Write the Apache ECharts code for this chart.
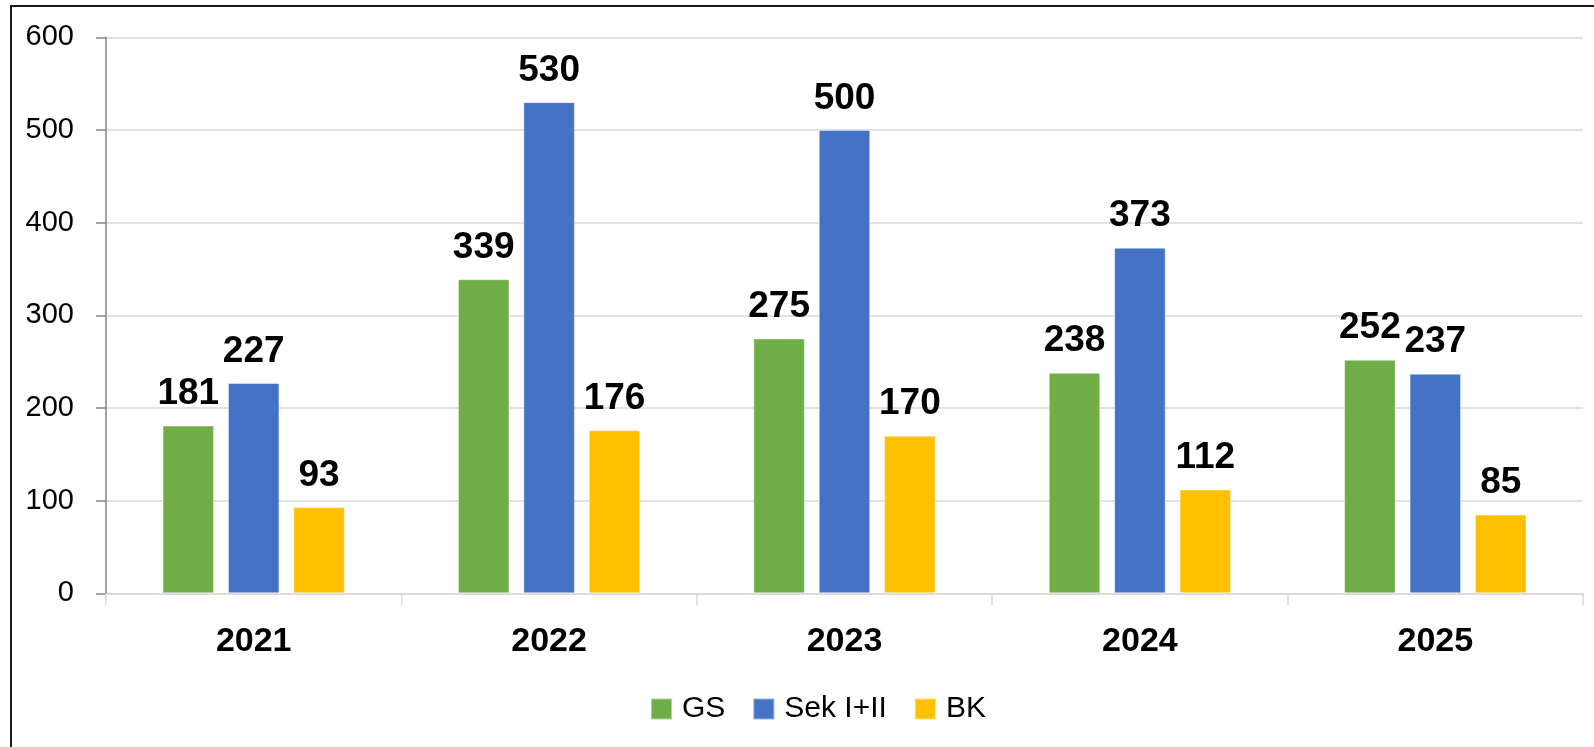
<!DOCTYPE html>
<html>
<head>
<meta charset="utf-8">
<script src="https://cdn.jsdelivr.net/npm/echarts@6/dist/echarts.min.js"></script>
<style>
html,body{margin:0;padding:0;background:#fff;}
#chart{width:1594px;height:747px;}
</style>
</head>
<body>
<div id="chart"></div>
<script>
const categories = ['2021', '2022', '2023', '2024', '2025'];
const seriesNames = ['GS', 'Sek I+II', 'BK'];
const gsValues = [181, 339, 275, 238, 252];
const sekValues = [227, 530, 500, 373, 237];
const bkValues = [93, 176, 170, 112, 85];
const yTicks = [0, 100, 200, 300, 400, 500, 600];

const FONT = '"Liberation Sans", Arial, sans-serif';
const colors = ['#70AD47', '#4472C4', '#FFC000'];
const values = [gsValues, sekValues, bkValues];

const chart = echarts.init(document.getElementById('chart'), null, {renderer: 'canvas'});

const series = seriesNames.map((name, i) => ({
  name: name,
  type: 'bar',
  data: values[i],
  barWidth: 51.5,
  barGap: '27%',
  itemStyle: {color: colors[i], borderColor: 'rgba(255,255,255,0.45)', borderWidth: 1},
  label: {
    show: true,
    position: 'top',
    distance: 13,
    color: '#000',
    fontFamily: FONT,
    fontWeight: 'bold',
    fontSize: 37
  },
  emphasis: {disabled: true}
}));

chart.setOption({
  animation: false,
  backgroundColor: '#fff',
  graphic: [{
    type: 'rect',
    shape: {x: 11, y: 6, width: 2000, height: 2000},
    style: {fill: 'none', stroke: '#1a1a1a', lineWidth: 2},
    silent: true
  }],
  grid: {left: 106, right: 11, top: 37.3, bottom: 153.7, containLabel: false},
  legend: {
    data: seriesNames,
    left: 645,
    top: 689,
    itemWidth: 21,
    itemHeight: 21,
    itemGap: 27,
    icon: 'rect',
    textStyle: {fontFamily: FONT, fontSize: 30, color: '#000', padding: [0, 0, 0, 5]}
  },
  xAxis: {
    type: 'category',
    data: categories,
    axisLine: {show: true, lineStyle: {color: '#d9d9d9', width: 1.5}},
    axisTick: {show: true, length: 12, lineStyle: {color: '#d9d9d9', width: 1.5}},
    axisLabel: {margin: 31, color: '#000', fontFamily: FONT, fontWeight: 'bold', fontSize: 34},
    splitLine: {show: false}
  },
  yAxis: {
    type: 'value',
    min: yTicks[0],
    max: yTicks[yTicks.length - 1],
    interval: 100,
    axisLine: {show: true, lineStyle: {color: '#868686', width: 1.5}},
    axisTick: {show: true, length: 10, lineStyle: {color: '#868686', width: 1.5}},
    axisLabel: {margin: 32, color: '#000', fontFamily: FONT, fontSize: 29},
    splitLine: {show: true, lineStyle: {color: '#d9d9d9', width: 1.5}}
  },
  series: series
});
</script>
</body>
</html>
